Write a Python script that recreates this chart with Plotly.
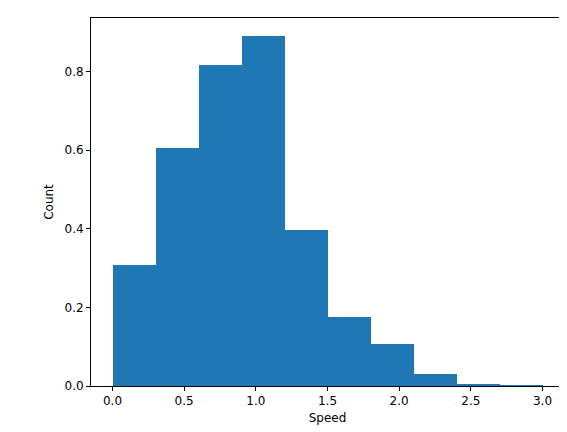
import plotly.graph_objects as go

bin_edges = [0.0, 0.3, 0.6, 0.9, 1.2, 1.5, 1.8, 2.1, 2.4, 2.7, 3.0]
density = [0.308, 0.605, 0.818, 0.892, 0.397, 0.175, 0.108, 0.030, 0.005, 0.001]

centers = [(a + b) / 2 for a, b in zip(bin_edges[:-1], bin_edges[1:])]
widths = [b - a for a, b in zip(bin_edges[:-1], bin_edges[1:])]

fig = go.Figure(go.Bar(x=centers, y=density, width=widths, marker=dict(color="#1f77b4", line=dict(width=0))))
axis = dict(showgrid=False, zeroline=False, showline=True, linecolor="black", mirror=True,
            ticks="outside", ticklen=4, tickcolor="black", tickfont=dict(size=12, color="black"),
            automargin=False)
fig.update_layout(
    width=567, height=432, plot_bgcolor="white", paper_bgcolor="white",
    margin=dict(l=83, r=11, t=10, b=54, autoexpand=False), bargap=0, showlegend=False,
    font=dict(family="DejaVu Sans", color="black"),
    xaxis=dict(axis, range=[-0.15, 3.15], tickvals=[0, 0.5, 1, 1.5, 2, 2.5, 3],
               ticktext=["0.0", "0.5", "1.0", "1.5", "2.0", "2.5", "3.0"],
               title=dict(text="Speed", font=dict(size=12), standoff=6)),
    yaxis=dict(axis, range=[0, 0.9366], tickvals=[0, 0.2, 0.4, 0.6, 0.8],
               ticktext=["0.0", "0.2", "0.4", "0.6", "0.8"],
               title=dict(text="Count", font=dict(size=12), standoff=8)),
)
fig.write_html("out.html")
